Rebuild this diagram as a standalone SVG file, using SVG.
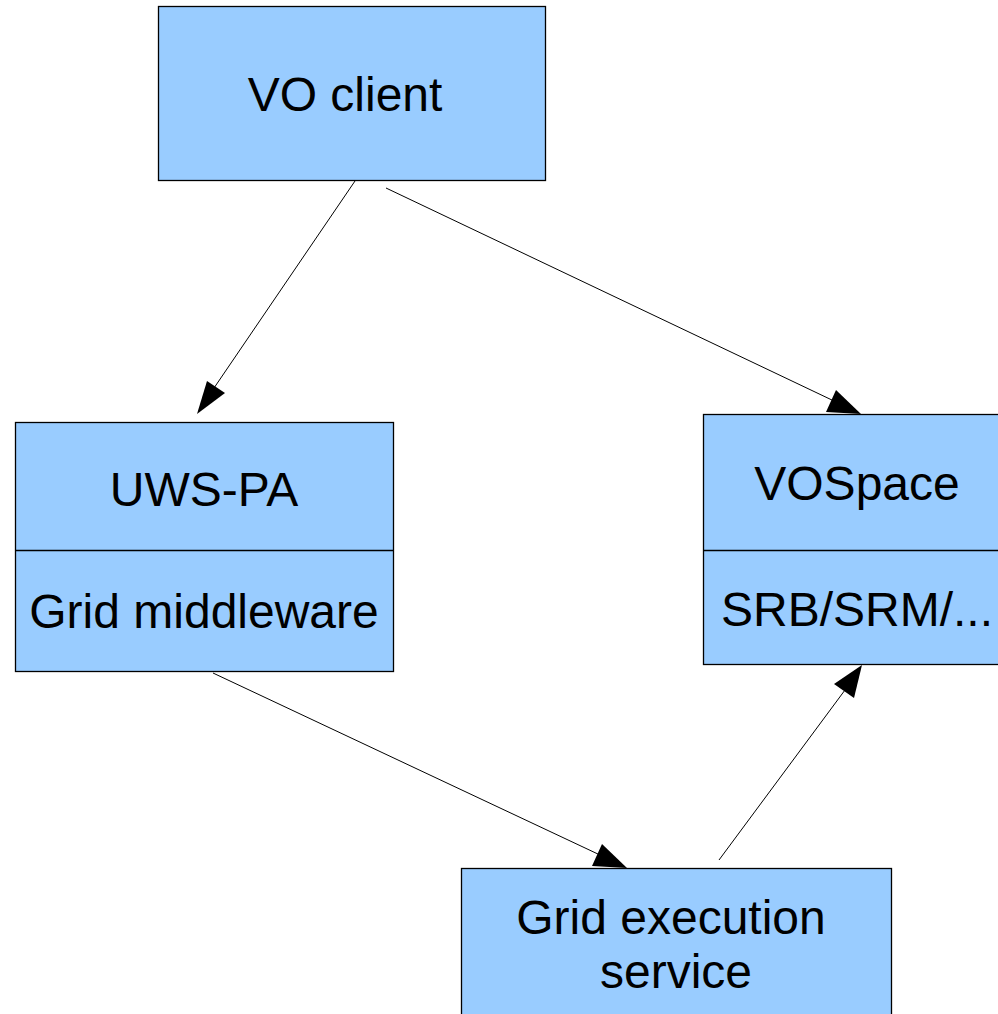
<svg xmlns="http://www.w3.org/2000/svg" width="998" height="1014" viewBox="0 0 998 1014">
<defs>
<style>
.box{fill:#99ccff;stroke:#000;stroke-width:1.3}
.div{stroke:#000;stroke-width:1.3;fill:none}
.t{font-family:"Liberation Sans",Arial,sans-serif;font-size:48px;fill:#000;text-anchor:middle}
.c{stroke:#000;stroke-width:1;fill:none}
.ah{fill:#000;stroke:none}
</style>
</defs>
<rect width="998" height="1014" fill="#fff"/>
<g id="vo-client">
<rect class="box" x="158.5" y="6.5" width="387" height="174"/>
<text class="t" x="345" y="111">VO client</text>
</g>
<g id="uws-pa">
<rect class="box" x="15.5" y="422.5" width="378" height="249"/>
<line class="div" x1="15.5" y1="550.5" x2="393.5" y2="550.5"/>
<text class="t" x="204" y="506">UWS-PA</text>
<text class="t" x="204" y="628">Grid middleware</text>
</g>
<g id="vospace">
<rect class="box" x="703.5" y="414.5" width="320" height="250"/>
<line class="div" x1="703.5" y1="550.5" x2="1000" y2="550.5"/>
<text class="t" x="857" y="500">VOSpace</text>
<text class="t" x="857" y="626">SRB/SRM/...</text>
</g>
<g id="grid-execution">
<rect class="box" x="461.5" y="868.5" width="430" height="160"/>
<text class="t" x="671" y="934">Grid execution</text>
<text class="t" x="676" y="988">service</text>
</g>
<g id="connectors">
<line class="c" x1="355" y1="181" x2="214" y2="388"/>
<polygon class="ah" points="197,414 207,381 225,393"/>
<line class="c" x1="386" y1="188" x2="834" y2="401"/>
<polygon class="ah" points="861,414 826,412 836,390"/>
<line class="c" x1="213" y1="673" x2="600" y2="855"/>
<polygon class="ah" points="627,868 592,866 602,844"/>
<line class="c" x1="719" y1="860" x2="845" y2="690"/>
<polygon class="ah" points="862,665 854,698 834,684"/>
</g>
</svg>
